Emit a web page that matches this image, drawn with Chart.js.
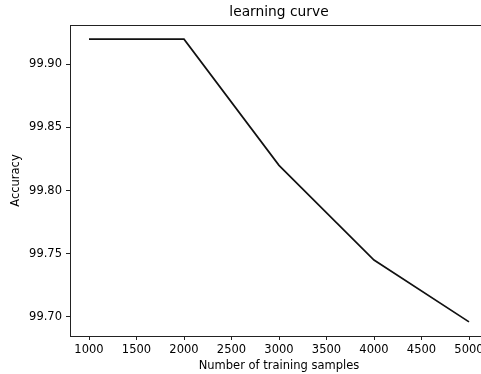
<!DOCTYPE html>
<html>
<head>
<meta charset="utf-8">
<script src="https://cdn.jsdelivr.net/npm/chart.js@4/dist/chart.umd.min.js"></script>
<style>
  html, body { margin: 0; padding: 0; background: #fff; overflow: hidden; width: 481px; height: 374px; }
  #wrap { width: 481px; height: 374px; overflow: hidden; position: relative; }
  canvas { display: block; }
</style>
</head>
<body>
<div id="wrap"><canvas id="c" width="540" height="374"></canvas></div>
<script>
// ---- data ----
const trainingSamples = [1000, 2000, 3000, 4000, 5000];
const accuracy = [99.92, 99.92, 99.82, 99.745, 99.696];
const xTickValues = [1000, 1500, 2000, 2500, 3000, 3500, 4000, 4500, 5000];
const yTickValues = [99.70, 99.75, 99.80, 99.85, 99.90];
const chartTitle = 'learning curve';
const xLabel = 'Number of training samples';
const yLabel = 'Accuracy';

// matplotlib-style 5% margins
function margins(arr) {
  const lo = Math.min(...arr), hi = Math.max(...arr), d = (hi - lo) * 0.05;
  return [lo - d, hi + d];
}
const [xMin, xMax] = margins(trainingSamples);
const [yMin, yMax] = margins(accuracy);

const FONT = 'DejaVu Sans';
const TXT = '#000';
const SPINE = '#222';

const boxPlugin = {
  id: 'box',
  afterDraw(chart) {
    const { ctx, chartArea: a } = chart;
    ctx.save();
    ctx.strokeStyle = SPINE;
    ctx.lineWidth = 1;
    ctx.beginPath();
    ctx.moveTo(Math.round(a.left) + 0.5, Math.round(a.top) + 0.5);
    ctx.lineTo(Math.round(a.right) + 0.5, Math.round(a.top) + 0.5);
    ctx.lineTo(Math.round(a.right) + 0.5, Math.round(a.bottom) + 0.5);
    ctx.stroke();
    ctx.restore();
  }
};

new Chart(document.getElementById('c'), {
  type: 'line',
  data: {
    datasets: [{
      data: trainingSamples.map((x, i) => ({ x, y: accuracy[i] })),
      borderColor: '#111',
      borderWidth: 1.7,
      pointRadius: 0,
      tension: 0,
      fill: false
    }]
  },
  options: {
    responsive: false,
    animation: false,
    devicePixelRatio: 1,
    layout: { padding: { left: 0, right: 52, top: 0, bottom: 0 } },
    plugins: {
      legend: { display: false },
      tooltip: { enabled: false },
      title: {
        display: true,
        text: chartTitle,
        fullSize: false,
        color: TXT,
        font: { family: FONT, size: 13.8, weight: 'normal', lineHeight: 1.0 },
        padding: { top: 6, bottom: 5.2 }
      }
    },
    scales: {
      x: {
        type: 'linear',
        min: xMin,
        max: xMax,
        afterBuildTicks: s => { s.ticks = xTickValues.map(v => ({ value: v })); },
        afterFit: s => { s.height = 38; },
        ticks: {
          color: TXT,
          font: { family: FONT, size: 11.5 },
          padding: 3,
          maxRotation: 0,
          autoSkip: false,
          callback: v => String(v)
        },
        grid: { display: true, drawOnChartArea: false, drawTicks: true, tickLength: 4, tickColor: SPINE },
        border: { display: true, color: SPINE, width: 1 },
        title: {
          display: true,
          text: xLabel,
          color: TXT,
          font: { family: FONT, size: 11.5, lineHeight: 1.2 },
          padding: { top: 0, bottom: 1.5 }
        }
      },
      y: {
        type: 'linear',
        min: yMin,
        max: yMax,
        afterBuildTicks: s => { s.ticks = yTickValues.map(v => ({ value: v })); },
        afterFit: s => { s.width = 70; },
        ticks: {
          color: TXT,
          font: { family: FONT, size: 11.5 },
          padding: 4,
          autoSkip: false,
          callback: v => Number(v).toFixed(2)
        },
        grid: { display: true, drawOnChartArea: false, drawTicks: true, tickLength: 4, tickColor: SPINE },
        border: { display: true, color: SPINE, width: 1 },
        title: {
          display: true,
          text: yLabel,
          color: TXT,
          font: { family: FONT, size: 11.5, lineHeight: 1.2 },
          padding: { top: 9, bottom: 0 }
        }
      }
    }
  },
  plugins: [boxPlugin]
});
</script>
</body>
</html>
